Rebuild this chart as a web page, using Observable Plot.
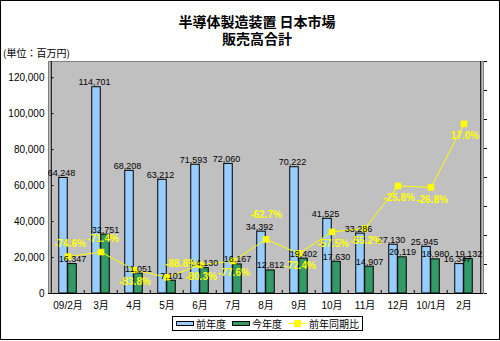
<!DOCTYPE html>
<html><head><meta charset="utf-8">
<script src="https://cdn.jsdelivr.net/npm/d3@7"></script>
<script src="https://cdn.jsdelivr.net/npm/@observablehq/plot@0.6"></script>
<style>
body{margin:0;background:#fff;font-family:"Liberation Sans","Noto Sans CJK JP",sans-serif;}
#root{position:relative;width:500px;height:341px;overflow:hidden;}
#frame{position:absolute;left:0;top:0;width:500px;height:340px;box-sizing:border-box;border:1px solid #000;}
.t{position:absolute;white-space:nowrap;color:#000;}
#legend{position:absolute;left:172px;top:316px;width:191px;height:15px;box-sizing:border-box;border:1px solid #000;background:#fff;font-size:10px;font-family:"Noto Sans CJK JP",sans-serif;}
#legend .it{position:absolute;top:0;height:13px;line-height:13px;}
.sw{position:absolute;top:4px;width:18px;height:5px;box-sizing:border-box;border:1px solid #000;}
</style></head>
<body><div id="root">
<div id="frame"></div>
<div class="t" style="left:0;width:514px;top:13px;text-align:center;font:bold 14px 'Noto Sans CJK JP',sans-serif;line-height:16px;">半導体製造装置 日本市場</div>
<div class="t" style="left:0;width:514px;top:30px;text-align:center;font:bold 14px 'Noto Sans CJK JP',sans-serif;line-height:16px;">販売高合計</div>
<div class="t" style="left:3px;top:46px;font:10px 'Noto Sans CJK JP',sans-serif;line-height:13px;">(単位：百万円)</div>
<div id="chart" style="position:absolute;left:0;top:0;"></div>
<div id="legend">
  <div class="sw" style="left:3px;background:#99CCFF;"></div>
  <div class="it" style="left:23px;">前年度</div>
  <div class="sw" style="left:59px;background:#339966;"></div>
  <div class="it" style="left:79px;">今年度</div>
  <div style="position:absolute;left:115px;top:6px;width:19px;height:1px;background:#FFFF00;"></div>
  <div style="position:absolute;left:121px;top:3px;width:7px;height:7px;background:#FFFF00;"></div>
  <div class="it" style="left:136px;">前年同期比</div>
</div>
</div>
<script>
const categories = ["09/2月","3月","4月","5月","6月","7月","8月","9月","10月","11月","12月","10/1月","2月"];
const prevYear = [64248,114701,68208,63212,71593,72060,34392,70222,41525,33286,27130,25945,16347];
const thisYear = [16347,32751,11051,7101,14130,16167,12812,19402,17630,14907,20119,18980,19132];
const yoyPct = [-74.6,-71.4,-83.8,-88.8,-80.3,-77.6,-62.7,-72.4,-57.5,-55.2,-25.8,-26.8,17.0];
const leftTicks = [0,20000,40000,60000,80000,100000,120000];
const pctTicks = [-100,-80,-60,-40,-20,0,20,40,60];

const yMax = 129000, pMin = -100, pMax = 60;
const toY = p => (p - pMin) / (pMax - pMin) * yMax;
const rows = categories.map((c,i)=>({cat:c, prev:prevYear[i], curr:thisYear[i], pct:yoyPct[i], py:toY(yoyPct[i]), i}));
const above = new Set([0,1,3,6]); // label placement for the yoy line
const labelAbove = rows.filter(d=>above.has(d.i) && d.i!==6 && d.i!==3);
const W=500, H=341, mL=48, mR=17, mT=61, mB=48;
const bw = (W-mL-mR)/categories.length;
const barW = 9;
const fmt = d3.format(",");
const pfmt = d => d.toFixed(1) + "%";

const chart = Plot.plot({
  width: W, height: H, marginLeft: mL, marginRight: mR, marginTop: mT, marginBottom: mB,
  style: {background: "transparent", fontFamily: "'Liberation Sans','Noto Sans CJK JP',sans-serif"},
  x: {type: "band", domain: categories, padding: 0},
  y: {domain: [0, yMax]},
  marks: [
    Plot.frame({fill: "#C0C0C0", stroke: "#808080"}),
    Plot.barY(rows, {x: "cat", y: "prev", fill: "#99CCFF", stroke: "#000", strokeWidth: 1, insetLeft: bw/2 - barW, insetRight: bw/2}),
    Plot.barY(rows, {x: "cat", y: "curr", fill: "#339966", stroke: "#000", strokeWidth: 1, insetLeft: bw/2, insetRight: bw/2 - barW}),
    Plot.ruleY([0], {stroke: "#000"}),
    Plot.ruleX([categories[0]], {dx: -bw/2, stroke: "#000"}),
    Plot.ruleX([categories[categories.length-1]], {dx: bw/2, stroke: "#000"}),
    Plot.ruleX(categories.slice(1), {dx: -bw/2, y1: 0, y2: 0, insetTop: -3, stroke: "#000"}),
    Plot.tickY(leftTicks, {y: d => d, x: () => categories[0], insetRight: bw - 3, stroke: "#000"}),
    Plot.axisY({ticks: leftTicks, tickFormat: fmt, tickSize: 0, tickPadding: 4, fontSize: 10, label: null}),
    Plot.axisY({anchor: "right", ticks: pctTicks.map(toY), tickFormat: () => "", tickSize: 3, label: null}),
    Plot.axisX({tickSize: 0, tickPadding: 8, fontSize: 10, label: null, fontFamily: "'Liberation Sans','Noto Sans CJK JP',sans-serif"}),
    Plot.line(rows, {x: "cat", y: "py", stroke: "#FFFF00", strokeWidth: 1}),
    Plot.dot(rows, {x: "cat", y: "py", symbol: "square", r: 3.7, fill: "#FFFF00", stroke: "none"}),
    Plot.text(rows, {x: "cat", y: "prev", text: d => fmt(d.prev), dx: -barW/2 - 2, dy: -2, lineAnchor: "bottom", fontSize: 9, fill: "#000"}),
    Plot.text(rows, {x: "cat", y: "curr", text: d => fmt(d.curr), dx: barW/2, dy: -2, lineAnchor: "bottom", fontSize: 9, fill: "#000"}),
    Plot.text(labelAbove, {x: "cat", y: "py", text: d => pfmt(d.pct), dx: 2, dy: -13, fontSize: 10, fontWeight: "bold", fill: "#FFFF00"}),
    Plot.text(rows.filter(d=>d.i===3), {x: "cat", y: "py", text: d => pfmt(d.pct), dx: 14, dy: -13, fontSize: 10, fontWeight: "bold", fill: "#FFFF00"}),
    Plot.text(rows.filter(d=>d.i===6), {x: "cat", y: "py", text: d => pfmt(d.pct), dx: 0, dy: -25, fontSize: 10, fontWeight: "bold", fill: "#FFFF00"}),
    Plot.text(rows.filter(d=>!above.has(d.i)), {x: "cat", y: "py", text: d => pfmt(d.pct), dx: 1, dy: 12, fontSize: 10, fontWeight: "bold", fill: "#FFFF00"})
  ]
});
document.getElementById("chart").appendChild(chart);
</script>
</body></html>
